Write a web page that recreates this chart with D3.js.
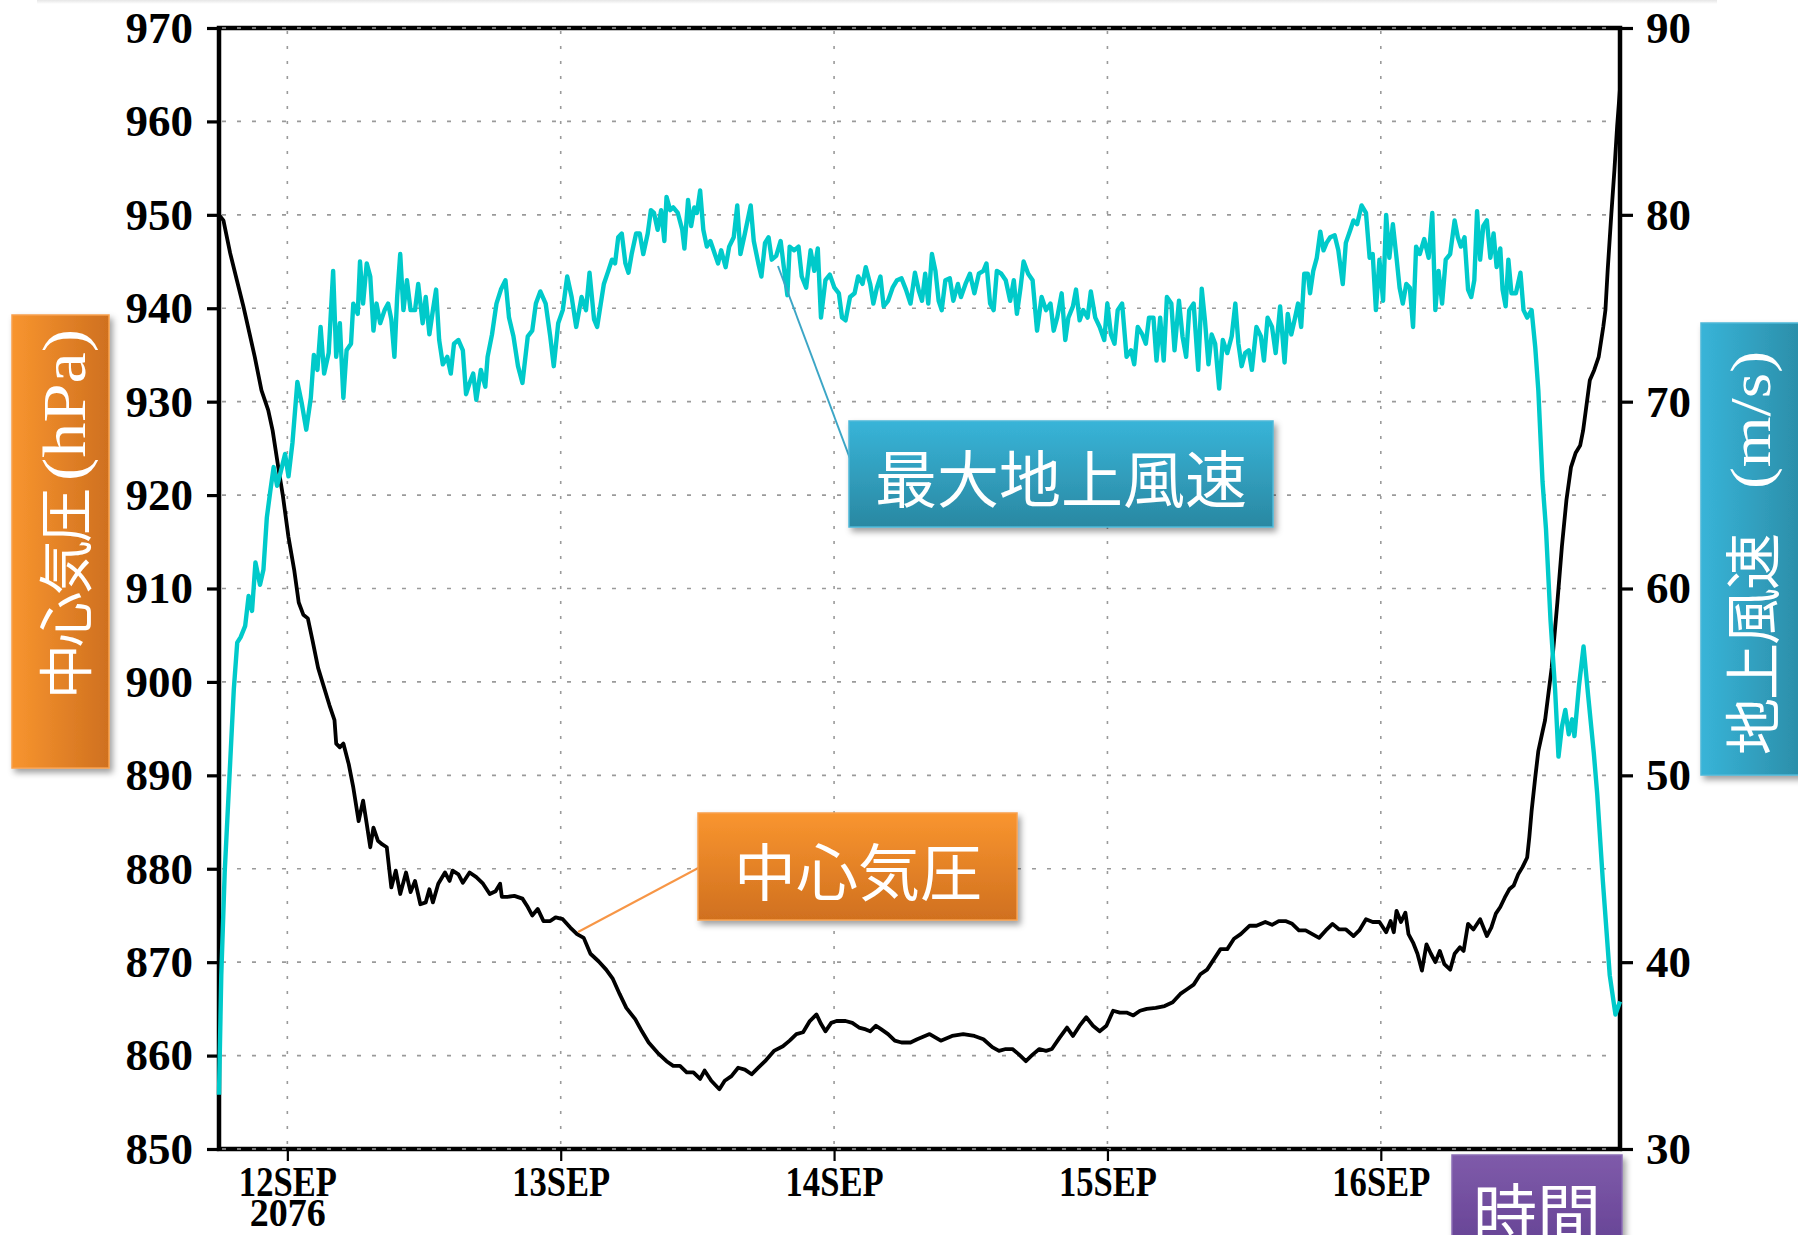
<!DOCTYPE html>
<html>
<head>
<meta charset="utf-8">
<title>中心気圧と最大地上風速</title>
<script src="https://cdn.jsdelivr.net/npm/d3@7"></script>
<style>
  html, body { margin: 0; padding: 0; background: #fff; }
  svg { display: block; }
</style>
</head>
<body>
<svg id="chart" width="1798" height="1235"></svg>
<script>
// Time axis: hours after 2076-09-11 18Z
const START_UTC = Date.UTC(2076, 8, 11, 18);
const SPAN_HOURS = 123;

const pressureTicks = [850, 860, 870, 880, 890, 900, 910, 920, 930, 940, 950, 960, 970];
const windTicks = [30, 40, 50, 60, 70, 80, 90];
const dayTickHours = [6, 30, 54, 78, 102];
const dayTickLabels = ["12SEP", "13SEP", "14SEP", "15SEP", "16SEP"];
const yearLabel = "2076";

// Central pressure (hPa)
const pressureHours = [
  0, 0.39, 0.98, 1.57, 2.16, 2.68, 3.14, 3.73, 4.32, 4.71, 5.2, 5.6, 6.1, 6.6, 7.0, 7.4, 7.8, 8.2, 8.7, 9.2, 9.7,
  10.14, 10.29, 10.61, 10.92, 11.39, 11.79, 12.26, 12.65, 12.97, 13.28, 13.56, 13.95, 14.34, 14.73, 15.13, 15.52,
  15.91, 16.42, 16.82, 17.21, 17.68, 18.15, 18.47, 18.78, 19.25, 19.84, 20.24, 20.51, 21.02, 21.41, 22.0, 22.59,
  23.18, 23.77, 24.28, 24.68, 24.83, 25.34, 25.93, 26.64, 27.11, 27.5, 27.98, 28.49, 29.08, 29.55, 30.18, 30.84,
  31.43, 32.02, 32.61, 33.32, 33.99, 34.58, 35.17, 35.76, 36.54, 37.13, 37.72, 38.51, 39.29, 39.88, 40.47, 41.06,
  41.65, 42.24, 42.63, 43.22, 43.93, 44.4, 44.99, 45.58, 46.17, 46.76, 47.35, 47.94, 48.72, 49.51, 50.1, 50.69,
  51.28, 51.87, 52.46, 52.85, 53.24, 53.75, 54.22, 55.01, 55.6, 56.19, 56.78, 57.17, 57.68, 58.15, 58.74, 59.33,
  59.92, 60.71, 61.3, 62.39, 63.37, 64.36, 65.34, 66.32, 67.11, 67.89, 68.48, 69.07, 69.66, 70.25, 70.84, 71.43,
  72.02, 72.61, 73.12, 73.79, 74.45, 74.97, 75.56, 76.14, 76.73, 77.32, 77.91, 78.5, 79.09, 79.68, 80.27, 80.86,
  81.45, 82.24, 83.02, 83.73, 84.4, 84.99, 85.57, 86.16, 86.75, 87.34, 87.93, 88.52, 89.11, 89.7, 90.49, 91.08,
  91.86, 92.45, 93.04, 93.63, 94.22, 94.81, 95.4, 95.99, 96.58, 97.17, 97.76, 98.35, 98.94, 99.6, 100.11, 100.7,
  101.29, 101.88, 102.47, 102.86, 103.14, 103.38, 103.77, 104.16, 104.43, 104.83, 105.22, 105.61, 106.01, 106.4,
  106.79, 107.18, 107.58, 108.09, 108.48, 108.95, 109.27, 109.66, 110.13, 110.72, 111.31, 111.7, 112.1, 112.49,
  112.88, 113.28, 113.67, 114.06, 114.45, 114.85, 115.04, 115.24, 115.56, 115.83, 116.22, 116.42, 117.0, 117.5,
  117.9, 118.3, 118.7, 119.1, 119.5, 119.76, 120.35, 120.74, 121.13, 121.53, 121.72, 121.92, 122.24, 122.51,
  122.75, 123.0
];
const pressureHPa = [
  950.0, 949.4, 945.9, 943.0, 940.1, 937.3, 934.8, 931.2, 929.1, 926.9, 923.0, 920.0, 915.5, 912.0, 908.5, 907.2,
  906.8, 904.5, 901.5, 899.5, 897.5,
  895.9, 893.4, 893.0, 893.4, 891.2, 888.7, 885.1, 887.3, 884.8, 882.3, 884.4, 883.0, 882.6, 882.3, 878.0, 879.8,
  877.3, 879.6, 877.5, 878.7, 876.2, 876.4, 877.8, 876.4, 878.4, 879.6, 878.7, 879.8, 879.4, 878.5, 879.6, 879.1,
  878.4, 877.3, 877.6, 878.4, 877.0, 877.0, 877.1, 876.8, 875.9, 875.0, 875.7, 874.4, 874.4, 874.8, 874.6, 873.7,
  873.0, 872.6, 870.9, 870.1, 869.2, 868.2, 866.6, 865.1, 863.9, 862.6, 861.4, 860.3, 859.4, 858.9, 858.9, 858.2,
  858.2, 857.5, 858.4, 857.3, 856.4, 857.3, 857.8, 858.7, 858.5, 858.0, 858.7, 859.4, 860.5, 861.0, 861.6, 862.3,
  862.5, 863.7, 864.4, 863.4, 862.6, 863.5, 863.7, 863.7, 863.5, 863.0, 862.8, 862.6, 863.2, 862.8, 862.3, 861.6,
  861.4, 861.4, 861.75, 862.3, 861.6, 862.1, 862.3, 862.1, 861.75, 860.9, 860.5, 860.7, 860.7, 860.1, 859.4, 860.1,
  860.7, 860.5, 860.7, 861.9, 863.0, 862.1, 863.2, 864.1, 863.2, 862.6, 863.2, 864.8, 864.6, 864.6, 864.3, 864.8,
  865.0, 865.1, 865.3, 865.7, 866.6, 867.1, 867.6, 868.7, 869.2, 870.3, 871.4, 871.4, 872.5, 873.0, 873.9, 873.9,
  874.3, 874.0, 874.4, 874.4, 874.1, 873.4, 873.4, 873.0, 872.6, 873.4, 874.1, 873.5, 873.5, 872.8, 873.4, 874.6,
  874.3, 874.3, 873.2, 874.4, 873.2, 875.5, 874.3, 875.3, 873.0, 872.1, 870.9, 869.1, 871.9, 870.9,
  870.0, 871.2, 869.8, 869.2, 870.9, 871.6, 871.2, 874.1, 873.5, 874.6, 872.8, 873.7, 875.2, 875.9,
  876.9, 877.8, 878.2, 879.4, 880.2, 881.2, 883.4, 886.2, 889.8, 892.6, 894.8, 895.9, 901.5, 908.5,
  914.5, 919.5, 923.0, 924.5, 925.3, 926.9, 932.3, 933.4, 934.8, 938.0, 939.8, 944.1, 950.1, 954.8,
  959.5, 963.5
];

// Maximum surface wind speed (m/s)
const windHours = [
  0, 0.2, 0.5, 0.9, 1.3, 1.6, 1.9, 2.3, 2.6, 2.9, 3.2, 3.6, 3.9, 4.2, 4.5, 4.8, 5.1, 5.4, 5.8, 6.1, 6.45,
  6.88, 7.27, 7.66, 8.06, 8.33, 8.64, 8.92, 9.23, 9.63, 10.02, 10.29, 10.61, 10.92, 11.2, 11.59, 11.79, 12.18,
  12.38, 12.65, 12.97, 13.28, 13.56, 13.83, 14.15, 14.54, 14.85, 15.13, 15.4, 15.64, 15.91, 16.19, 16.5, 16.82,
  17.21, 17.49, 17.88, 18.15, 18.47, 18.78, 19.06, 19.33, 19.65, 20.04, 20.35, 20.63, 21.02, 21.41, 21.69, 22.0,
  22.32, 22.59, 22.99, 23.38, 23.58, 23.97, 24.36, 24.75, 25.15, 25.46, 25.85, 26.25, 26.64, 27.11, 27.5, 27.82,
  28.21, 28.68, 29.08, 29.39, 29.78, 30.18, 30.57, 30.96, 31.36, 31.83, 32.22, 32.53, 32.93, 33.2, 33.48, 33.79,
  34.18, 34.5, 34.77, 35.05, 35.36, 35.68, 35.95, 36.23, 36.62, 36.94, 37.25, 37.64, 37.92, 38.19, 38.51, 38.82,
  39.1, 39.29, 39.61, 39.88, 40.28, 40.67, 40.86, 41.18, 41.45, 41.73, 41.96, 42.24, 42.52, 42.83, 43.14, 43.42,
  43.81, 44.09, 44.48, 44.79, 45.19, 45.5, 45.78, 46.17, 46.68, 46.95, 47.35, 47.62, 47.94, 48.25, 48.53, 48.92,
  49.31, 49.59, 49.9, 50.1, 50.49, 50.88, 51.16, 51.55, 51.94, 52.26, 52.57, 52.85, 53.24, 53.63, 54.03, 54.42,
  54.7, 55.01, 55.4, 55.8, 56.11, 56.5, 56.78, 57.17, 57.45, 57.76, 58.07, 58.35, 58.74, 59.14, 59.53, 59.92,
  60.31, 60.71, 61.1, 61.45, 61.72, 62.0, 62.27, 62.59, 62.9, 63.18, 63.45, 63.77, 64.16, 64.47, 64.87, 65.14,
  65.54, 65.93, 66.32, 66.71, 67.11, 67.38, 67.7, 68.01, 68.29, 68.68, 69.07, 69.46, 69.78, 70.05, 70.37, 70.64,
  71.04, 71.43, 71.82, 72.22, 72.61, 73.0, 73.28, 73.59, 73.98, 74.3, 74.57, 74.97, 75.24, 75.56, 75.87, 76.26,
  76.54, 76.93, 77.32, 77.72, 77.99, 78.31, 78.62, 78.9, 79.29, 79.68, 80.07, 80.35, 80.66, 81.06, 81.37, 81.65,
  82.04, 82.31, 82.63, 82.94, 83.22, 83.61, 83.89, 84.28, 84.59, 84.91, 85.18, 85.57, 85.97, 86.28, 86.56, 86.87,
  87.15, 87.46, 87.81, 88.13, 88.52, 88.91, 89.23, 89.5, 89.78, 90.09, 90.41, 90.68, 91.08, 91.47, 91.74, 92.06,
  92.45, 92.77, 93.16, 93.55, 93.83, 94.14, 94.42, 94.73, 95.01, 95.28, 95.59, 95.79, 96.07, 96.38, 96.69, 96.97,
  97.24, 97.56, 97.95, 98.27, 98.66, 98.93, 99.33, 99.6, 99.92, 100.31, 100.7, 101.02, 101.29, 101.57, 101.88,
  102.2, 102.47, 102.75, 103.06, 103.38, 103.65, 103.93, 104.24, 104.55, 104.83, 105.1, 105.42, 105.81, 106.2,
  106.52, 106.79, 107.07, 107.38, 107.7, 108.09, 108.48, 108.76, 109.03, 109.35, 109.66, 109.94, 110.21, 110.45,
  110.72, 111.0, 111.31, 111.62, 111.9, 112.17, 112.49, 112.69, 112.96, 113.2, 113.47, 113.86, 114.26, 114.53,
  114.85, 115.24, 115.56, 115.83, 116.2, 116.5, 116.9, 117.3, 117.6, 117.9, 118.2, 118.5, 118.8, 119.0, 119.4,
  119.8, 120.2, 120.7, 121.0, 121.5, 122.1, 122.6, 123.0
];
const windMS = [
  32.9, 39.3, 44.8, 49.7, 54.6, 57.1, 57.4, 58.0, 59.6, 58.8, 61.4, 60.2, 61.0, 63.8, 65.2, 66.5, 65.5, 66.2, 67.2,
  66.0, 67.8,
  71.05, 69.9, 68.5, 70.2, 72.5, 71.7, 74.0, 71.5, 72.6, 77.0, 72.4, 74.2, 70.2, 72.75, 73.1, 75.25, 74.7,
  77.5, 75.25, 77.4, 76.7, 73.8, 75.25, 74.2, 74.9, 75.25, 74.4, 72.4, 75.6, 77.9, 74.9, 76.5, 74.9,
  74.9, 76.3, 74.2, 75.6, 73.6, 74.9, 76.0, 73.3, 72.0, 72.4, 71.5, 73.1, 73.3, 72.75, 70.4, 71.0,
  71.5, 70.1, 71.7, 70.8, 72.4, 73.6, 75.25, 76.0, 76.5, 74.5, 73.5, 71.9, 71.0, 73.5, 73.8, 75.25,
  75.9, 75.25, 73.5, 71.9, 74.2, 74.9, 76.7, 75.6, 74.0, 75.6, 74.9, 76.9, 74.4, 74.0, 75.1, 76.3,
  77.0, 77.6, 77.4, 78.8, 79.0, 77.4, 76.9, 77.9, 79.0, 79.0, 77.9, 79.0, 80.25, 80.1, 79.2, 80.25,
  78.6, 80.96, 80.25, 80.4, 80.1, 79.2, 78.2, 80.8, 79.4, 80.4, 80.1, 81.3, 79.2, 78.3, 78.6, 78.1,
  77.4, 78.1, 77.2, 78.3, 78.8, 80.5, 77.9, 79.0, 80.5, 78.6, 77.4, 76.7, 78.5, 78.8, 77.6, 77.8,
  78.6, 77.2, 75.7, 78.3, 78.1, 78.3, 76.7, 76.1, 78.1, 77.0, 78.2, 74.5, 76.5, 76.8, 76.1, 75.8,
  74.5, 74.35, 75.6, 75.8, 76.7, 76.3, 77.2, 76.3, 75.25, 76.1, 76.7, 75.1, 75.4, 76.1, 76.5, 76.6,
  76.0, 75.25, 76.9, 75.9, 75.4, 76.85, 75.25, 77.9, 77.0, 75.4, 74.9, 76.5, 76.6, 75.4, 76.3, 75.6,
  76.3, 76.85, 75.8, 76.85, 77.0, 77.4, 75.25, 74.9, 77.0, 76.85, 76.5, 75.4, 76.5, 74.7, 76.1, 77.5,
  76.85, 76.5, 73.8, 75.6, 74.9, 75.25, 73.8, 74.5, 75.8, 73.3, 74.5, 75.1, 76.0, 74.35, 74.9, 74.5,
  75.9, 74.5, 74.0, 73.3, 75.25, 73.6, 73.1, 74.9, 75.25, 72.4, 72.75, 72.0, 74.0, 73.6, 73.1, 74.5,
  74.5, 72.2, 74.5, 72.2, 75.6, 75.25, 72.75, 75.4, 73.5, 72.4, 74.9, 75.25, 71.7, 76.05, 74.35, 72.0,
  73.6, 73.1, 70.7, 73.3, 72.6, 73.5, 75.25, 73.1, 71.9, 72.6, 72.75, 71.7, 74.0, 73.5, 72.2, 74.5,
  74.0, 72.6, 75.1, 72.1, 74.7, 73.6, 74.35, 75.25, 74.0, 76.85, 76.85, 75.8, 77.0, 77.7, 79.1, 78.1,
  78.5, 78.8, 78.9, 78.1, 76.3, 78.5, 79.2, 79.7, 79.5, 80.5, 80.1, 77.7, 77.9, 74.9, 77.6,
  75.4, 80.0, 77.7, 79.5, 77.7, 76.1, 75.25, 76.3, 76.1, 74.0, 78.3, 77.9, 78.7, 77.7,
  80.1, 74.9, 77.0, 75.25, 77.6, 77.9, 79.7, 78.8, 78.3, 78.8, 76.0, 75.6, 76.5, 80.2,
  77.6, 79.4, 79.7, 77.7, 79.0, 77.2, 78.2, 76.0, 75.1, 77.6, 75.8, 75.8, 76.9, 74.9,
  74.5, 74.9, 72.9, 70.6, 65.7, 63.2, 58.3, 54.6, 51.0, 52.6, 53.5, 52.2, 53.0, 52.1, 54.8,
  56.9, 54.3, 51.2, 49.0, 44.3, 39.3, 37.2, 37.9
];

// ---- layout ----
const svg = d3.select("#chart");
const plot = { left: 219, right: 1620, top: 28, bottom: 1149 };
const hourToDate = h => new Date(START_UTC + h * 3600e3);

const x = d3.scaleUtc()
  .domain([hourToDate(0), hourToDate(SPAN_HOURS)])
  .range([plot.left, plot.right]);
const yP = d3.scaleLinear().domain([850, 970]).range([plot.bottom, plot.top]);
const yW = d3.scaleLinear().domain([30, 90]).range([plot.bottom, plot.top]);

const defs = svg.append("defs");
function gradient(id, horizontal, c0, c1) {
  const g = defs.append("linearGradient").attr("id", id)
    .attr("x1", 0).attr("y1", 0)
    .attr("x2", horizontal ? 1 : 0).attr("y2", horizontal ? 0 : 1);
  g.append("stop").attr("offset", "0%").attr("stop-color", c0);
  g.append("stop").attr("offset", "100%").attr("stop-color", c1);
}
gradient("orangeH", true, "#F8952F", "#CF701F");
gradient("orangeV", false, "#F9952F", "#D0701F");
gradient("blueH", true, "#38B4D8", "#2A8AA4");
gradient("blueV", false, "#38B4D8", "#2A88A2");
gradient("purpleV", false, "#7F5BAA", "#644193");
gradient("topHaze", false, "#e6e6e6", "#ffffff");

const shadow = defs.append("filter").attr("id", "boxShadow")
  .attr("x", "-20%").attr("y", "-20%").attr("width", "150%").attr("height", "150%");
shadow.append("feDropShadow").attr("dx", 3).attr("dy", 4).attr("stdDeviation", 3)
  .attr("flood-color", "#000").attr("flood-opacity", 0.38);

// faint band along the top edge
svg.append("rect").attr("x", 37).attr("y", 0).attr("width", 1680).attr("height", 4)
  .attr("fill", "url(#topHaze)");

// ---- frame ----
svg.append("rect")
  .attr("x", plot.left).attr("y", plot.top)
  .attr("width", plot.right - plot.left).attr("height", plot.bottom - plot.top)
  .attr("fill", "none").attr("stroke", "#000").attr("stroke-width", 4.5);

// ---- grid ----
const grid = svg.append("g").attr("stroke", "#9a9a9a").attr("stroke-width", 1.6).attr("fill", "none");
grid.selectAll("line.h").data(pressureTicks).join("line").attr("class", "h")
  .attr("x1", plot.left + 3).attr("x2", plot.right - 3)
  .attr("y1", d => yP(d)).attr("y2", d => yP(d))
  .attr("stroke-dasharray", "4,11");
grid.selectAll("line.v").data(dayTickHours).join("line").attr("class", "v")
  .attr("x1", d => x(hourToDate(d))).attr("x2", d => x(hourToDate(d)))
  .attr("y1", plot.top + 3).attr("y2", plot.bottom - 3)
  .attr("stroke-dasharray", "3,12");

// ---- axes ----
const tickFont = "'Liberation Serif', 'Times New Roman', serif";

const leftAxis = svg.append("g")
  .attr("transform", `translate(${plot.left},0)`)
  .call(d3.axisLeft(yP).tickValues(pressureTicks).tickSize(12).tickPadding(14).tickFormat(d3.format("d")));
const rightAxis = svg.append("g")
  .attr("transform", `translate(${plot.right},0)`)
  .call(d3.axisRight(yW).tickValues(windTicks).tickSize(13).tickPadding(13).tickFormat(d3.format("d")));
const bottomAxis = svg.append("g")
  .attr("transform", `translate(0,${plot.bottom})`)
  .call(d3.axisBottom(x).tickValues(dayTickHours.map(hourToDate)).tickSize(12).tickFormat(""));

[leftAxis, rightAxis, bottomAxis].forEach(g => {
  g.select(".domain").remove();
  g.attr("font-family", tickFont).attr("font-size", 45).attr("font-weight", "bold");
  g.selectAll(".tick text").attr("fill", "#000");
});
leftAxis.selectAll(".tick line").attr("stroke", "#000").attr("stroke-width", 3.2);
rightAxis.selectAll(".tick line").attr("stroke", "#000").attr("stroke-width", 3.2);
bottomAxis.selectAll(".tick line").attr("stroke", "#000").attr("stroke-width", 2.2);

// date labels; the first one carries the year on a second line
bottomAxis.selectAll(".tick").each(function (d, i) {
  const label = d3.select(this).append("text")
    .attr("y", 47).attr("fill", "#000").attr("text-anchor", "middle");
  label.append("tspan")
    .attr("x", 0).attr("font-size", 43)
    .attr("textLength", 98).attr("lengthAdjust", "spacingAndGlyphs")
    .text(dayTickLabels[i]);
  if (i === 0) {
    label.append("tspan")
      .attr("x", 0).attr("dy", 30).attr("font-size", 39)
      .attr("textLength", 76).attr("lengthAdjust", "spacingAndGlyphs")
      .text(yearLabel);
  }
});

// ---- series ----
const pressureData = pressureHours.map((h, i) => ({ date: hourToDate(h), value: pressureHPa[i] }));
const windData = windHours.map((h, i) => ({ date: hourToDate(h), value: windMS[i] }));

svg.append("path").datum(pressureData)
  .attr("fill", "none").attr("stroke", "#000").attr("stroke-width", 3.8)
  .attr("stroke-linejoin", "round")
  .attr("d", d3.line().x(d => x(d.date)).y(d => yP(d.value)));

svg.append("path").datum(windData)
  .attr("fill", "none").attr("stroke", "#00CACA").attr("stroke-width", 4.4)
  .attr("stroke-linejoin", "round")
  .attr("d", d3.line().x(d => x(d.date)).y(d => yW(d.value)));

// ---- callouts ----
const cjk = "'Noto Sans CJK JP', 'Noto Sans CJK SC', sans-serif";

function box(x0, y0, w, h, fill, edge) {
  svg.append("rect").attr("x", x0).attr("y", y0).attr("width", w).attr("height", h)
    .attr("fill", fill).attr("stroke", edge).attr("stroke-width", 1.5)
    .attr("filter", "url(#boxShadow)");
}

// leader lines
svg.append("line").attr("x1", 778).attr("y1", 266).attr("x2", 855).attr("y2", 472)
  .attr("stroke", "#3CA6C6").attr("stroke-width", 2);
svg.append("line").attr("x1", 578).attr("y1", 932).attr("x2", 702).attr("y2", 866)
  .attr("stroke", "#F79646").attr("stroke-width", 2);

// series labels
box(849, 421, 424, 106, "url(#blueV)", "#4DB8D8");
svg.append("text").attr("x", 1061).attr("y", 476)
  .attr("text-anchor", "middle").attr("dominant-baseline", "central")
  .attr("font-family", cjk).attr("font-size", 62).attr("fill", "#fff")
  .text("最大地上風速");

box(698, 813, 319, 107, "url(#orangeV)", "#F8A04E");
svg.append("text").attr("x", 858).attr("y", 869)
  .attr("text-anchor", "middle").attr("dominant-baseline", "central")
  .attr("font-family", cjk).attr("font-size", 62).attr("fill", "#fff")
  .text("中心気圧");

// axis titles (vertical, reading upward)
box(12, 315, 97, 453, "url(#orangeH)", "#F8A04E");
const leftTitle = svg.append("g").attr("transform", "translate(62,699) rotate(-90)");
leftTitle.append("text").attr("x", 0).attr("y", 0).attr("dominant-baseline", "central")
  .attr("font-family", cjk).attr("font-size", 55).attr("letter-spacing", -3).attr("fill", "#fff")
  .text("中心気圧");
leftTitle.append("text").attr("x", 218).attr("y", 2).attr("dominant-baseline", "central")
  .attr("font-family", tickFont).attr("font-size", 62).attr("fill", "#fff")
  .attr("textLength", 152).attr("lengthAdjust", "spacingAndGlyphs")
  .text("(hPa)");

box(1701, 323, 110, 452, "url(#blueH)", "#4DB8D8");
const rightTitle = svg.append("g").attr("transform", "translate(1749,755) rotate(-90)");
rightTitle.append("text").attr("x", 0).attr("y", 0).attr("dominant-baseline", "central")
  .attr("font-family", cjk).attr("font-size", 57).attr("letter-spacing", -2).attr("fill", "#fff")
  .text("地上風速");
rightTitle.append("text").attr("x", 266).attr("y", 2).attr("dominant-baseline", "central")
  .attr("font-family", tickFont).attr("font-size", 56).attr("fill", "#fff")
  .attr("textLength", 138).attr("lengthAdjust", "spacingAndGlyphs")
  .text("(m/s)");

box(1452, 1155, 170, 100, "url(#purpleV)", "#8B6CB5");
svg.append("text").attr("x", 1537).attr("y", 1209)
  .attr("text-anchor", "middle").attr("dominant-baseline", "central")
  .attr("font-family", cjk).attr("font-size", 64).attr("fill", "#fff")
  .text("時間");
</script>
</body>
</html>
